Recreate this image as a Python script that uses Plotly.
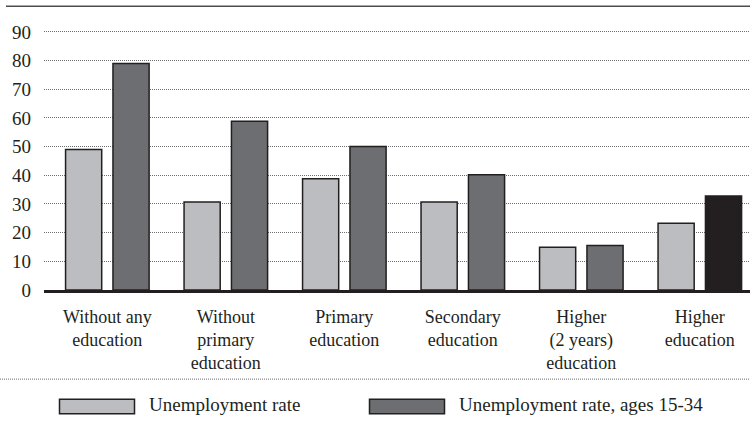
import plotly.graph_objects as go

categories = ["Without any<br>education", "Without<br>primary<br>education", "Primary<br>education",
              "Secondary<br>education", "Higher<br>(2 years)<br>education", "Higher<br>education"]
rate_all = [49, 30.7, 38.8, 30.7, 14.9, 23.3]
rate_young = [79, 58.8, 50, 40.2, 15.5, 32.8]
series_names = ["Unemployment rate", "Unemployment rate, ages 15-34"]
y_ticks = [0, 10, 20, 30, 40, 50, 60, 70, 80, 90]

W, H = 750, 431
L, R, T, B = 44, 0, 29.4, 141
FONT = "Liberation Serif"
TXT = "#231f20"
LIGHT = "#bcbdc0"
DARK = "#6d6e71"
BLACK = "#231f20"

x_idx = list(range(len(categories)))
dark_colors = [DARK] * (len(categories) - 1) + [BLACK]

fig = go.Figure()
fig.add_trace(go.Bar(x=x_idx, y=rate_all, name=series_names[0], width=0.305, offset=-0.352,
                     marker=dict(color=LIGHT, line=dict(color=BLACK, width=1.5)), showlegend=False))
fig.add_trace(go.Bar(x=x_idx, y=rate_young, name=series_names[1], width=0.305, offset=0.048,
                     marker=dict(color=dark_colors, line=dict(color=BLACK, width=1.5)), showlegend=False))

pw = W - L - R
ph = H - T - B
def px(x):
    return (x - L) / pw
def py(y):
    return (H - B - y) / ph

shapes = []
# top rule
shapes.append(dict(type="line", xref="paper", yref="paper", x0=px(6), x1=px(750), y0=py(6.7), y1=py(6.7),
                   line=dict(color="#4d4d4f", width=1.5)))
# separator dotted line
shapes.append(dict(type="line", xref="paper", yref="paper", x0=px(0), x1=px(750), y0=py(379), y1=py(379),
                   line=dict(color="#6d6e71", width=1, dash="1px,1px")))
# legend swatches
for x0, col in [(59.5, LIGHT), (369.5, DARK)]:
    shapes.append(dict(type="rect", xref="paper", yref="paper", x0=px(x0), x1=px(x0 + 75),
                       y0=py(413.5), y1=py(399), fillcolor=col, line=dict(color=BLACK, width=1.5)))

annotations = []
for xt, name in [(147, series_names[0]), (457, series_names[1])]:
    annotations.append(dict(x=px(xt), y=py(404.5), xref="paper", yref="paper", text=name, showarrow=False,
                            xanchor="left", yanchor="middle", font=dict(family=FONT, size=19, color=TXT)))

fig.update_layout(
    width=W, height=H,
    margin=dict(l=L, r=R, t=T, b=B),
    paper_bgcolor="white", plot_bgcolor="white",
    barmode="overlay",
    shapes=shapes, annotations=annotations,
    font=dict(family=FONT, size=19, color=TXT),
)
fig.update_xaxes(range=[-0.534, 5.424], tickvals=x_idx, ticktext=categories, showgrid=False, zeroline=False,
                 showline=True, linecolor=BLACK, linewidth=3, ticks="", ticklabelstandoff=8,
                 tickfont=dict(family=FONT, size=18, color=TXT))
fig.update_yaxes(range=[0, 91], tickvals=y_ticks, showgrid=True, gridcolor="#6d6e71", griddash="1px,1px",
                 gridwidth=1, zeroline=False, showline=False, ticks="", ticklabelstandoff=12,
                 tickfont=dict(family=FONT, size=19, color=TXT))

fig.write_html("out.html", config={"displayModeBar": False},
               post_script="document.body.style.margin='0';document.body.style.padding='0';")
